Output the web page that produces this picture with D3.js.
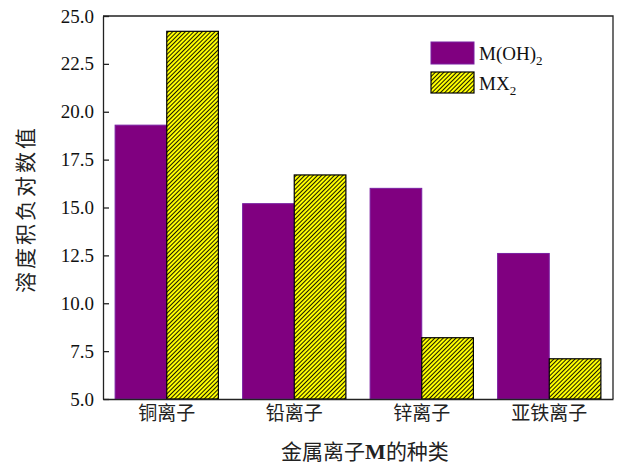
<!DOCTYPE html>
<html>
<head>
<meta charset="utf-8">
<script src="https://cdn.jsdelivr.net/npm/d3@7"></script>
<style>
  body { margin: 0; background: #fff; }
  svg { display: block; }
</style>
</head>
<body>
<svg width="619" height="466"></svg>
<script>
// data
const ions = ["铜离子", "铅离子", "锌离子", "亚铁离子"]
const hydroxide = [19.3, 15.2, 16.0, 12.6]   // M(OH)2
const halide = [24.2, 16.7, 8.2, 7.1]         // MX2
const yTicks = [5.0, 7.5, 10.0, 12.5, 15.0, 17.5, 20.0, 22.5, 25.0]

const svg = d3.select("svg")
const plotL = 103, plotR = 613, plotT = 16, plotB = 399
const cjk = "'Noto Sans CJK SC', sans-serif"
const serif = "'Liberation Serif', 'Times New Roman', serif"

// hatch for MX2 bars
const defs = svg.append("defs")
const pat = defs.append("pattern")
	.attr("id", "hatch")
	.attr("patternUnits", "userSpaceOnUse")
	.attr("width", 3)
	.attr("height", 3)
	.attr("patternTransform", "rotate(45)")
pat.append("rect").attr("width", 3).attr("height", 3).attr("fill", "#ffff00")
pat.append("line")
	.attr("x1", 0.5).attr("y1", 0).attr("x2", 0.5).attr("y2", 3)
	.attr("stroke", "#000").attr("stroke-width", 0.9)

// scales
const xScale = d3.scaleBand()
	.domain(ions)
	.range([plotL, plotR])
	.paddingInner(0.19)
	.paddingOuter(0.095)

const yScale = d3.scaleLinear()
	.domain([5, 25])
	.range([plotB, plotT])

const bw = xScale.bandwidth() / 2

// bars
svg.append("g")
	.selectAll("rect")
	.data(ions)
	.enter()
	.append("rect")
	.attr("x", d => xScale(d))
	.attr("y", (d, i) => yScale(hydroxide[i]))
	.attr("width", bw)
	.attr("height", (d, i) => plotB - yScale(hydroxide[i]))
	.attr("fill", "#800080")
	.attr("stroke", "#7a1fa2")
	.attr("stroke-width", 1)

svg.append("g")
	.selectAll("rect")
	.data(ions)
	.enter()
	.append("rect")
	.attr("x", d => xScale(d) + bw)
	.attr("y", (d, i) => yScale(halide[i]))
	.attr("width", bw)
	.attr("height", (d, i) => plotB - yScale(halide[i]))
	.attr("fill", "url(#hatch)")
	.attr("stroke", "#000")
	.attr("stroke-width", 1.2)

// axes
const yAxis = d3.axisLeft(yScale)
	.tickValues(yTicks)
	.tickFormat(d3.format(".1f"))
	.tickSizeInner(-6)
	.tickSizeOuter(0)
	.tickPadding(9)

const gy = svg.append("g")
	.attr("transform", `translate(${plotL},0)`)
	.call(yAxis)
gy.select(".domain").attr("stroke", "#222").attr("stroke-width", 1.3)
gy.selectAll(".tick line").attr("stroke", "#222").attr("stroke-width", 1.3)
gy.selectAll(".tick text")
	.attr("font-size", 19)
	.attr("fill", "#111")
	.attr("font-family", serif)

const xAxis = d3.axisBottom(xScale)
	.tickSize(0)
	.tickPadding(7)

const gx = svg.append("g")
	.attr("transform", `translate(0,${plotB})`)
	.call(xAxis)
gx.select(".domain").attr("stroke", "#222").attr("stroke-width", 1.3)
gx.selectAll(".tick text")
	.attr("font-size", 19)
	.attr("fill", "#222")
	.attr("font-family", cjk)

// top and right frame
svg.append("path")
	.attr("d", `M${plotL},${plotT}H${plotR}V${plotB}`)
	.attr("fill", "none")
	.attr("stroke", "#222")
	.attr("stroke-width", 1.3)

// axis titles
svg.append("text")
	.attr("transform", `translate(33,209) rotate(-90)`)
	.attr("text-anchor", "middle")
	.attr("font-size", 21)
	.attr("letter-spacing", 3)
	.attr("font-family", cjk)
	.attr("fill", "#222")
	.text("溶度积负对数值")

const xt = svg.append("text")
	.attr("x", 365)
	.attr("y", 459)
	.attr("text-anchor", "middle")
	.attr("font-size", 21)
	.attr("font-family", cjk)
	.attr("fill", "#222")
xt.append("tspan").text("金属离子")
xt.append("tspan").attr("font-family", serif).attr("font-weight", "bold").attr("font-size", 22).text("M")
xt.append("tspan").text("的种类")

// legend
const legend = svg.append("g").attr("transform", "translate(431,42)")
legend.append("rect")
	.attr("width", 43).attr("height", 22)
	.attr("fill", "#800080").attr("stroke", "#7a1fa2")
legend.append("rect")
	.attr("y", 30)
	.attr("width", 43).attr("height", 21)
	.attr("fill", "url(#hatch)").attr("stroke", "#000").attr("stroke-width", 1.2)

const l1 = legend.append("text")
	.attr("x", 48).attr("y", 18)
	.attr("font-size", 19).attr("font-family", serif).attr("fill", "#111")
l1.append("tspan").text("M(OH)")
l1.append("tspan").attr("font-size", 13).attr("dy", 5).text("2")

const l2 = legend.append("text")
	.attr("x", 48).attr("y", 48)
	.attr("font-size", 19).attr("font-family", serif).attr("fill", "#111")
l2.append("tspan").text("MX")
l2.append("tspan").attr("font-size", 13).attr("dy", 5).text("2")
</script>
</body>
</html>
